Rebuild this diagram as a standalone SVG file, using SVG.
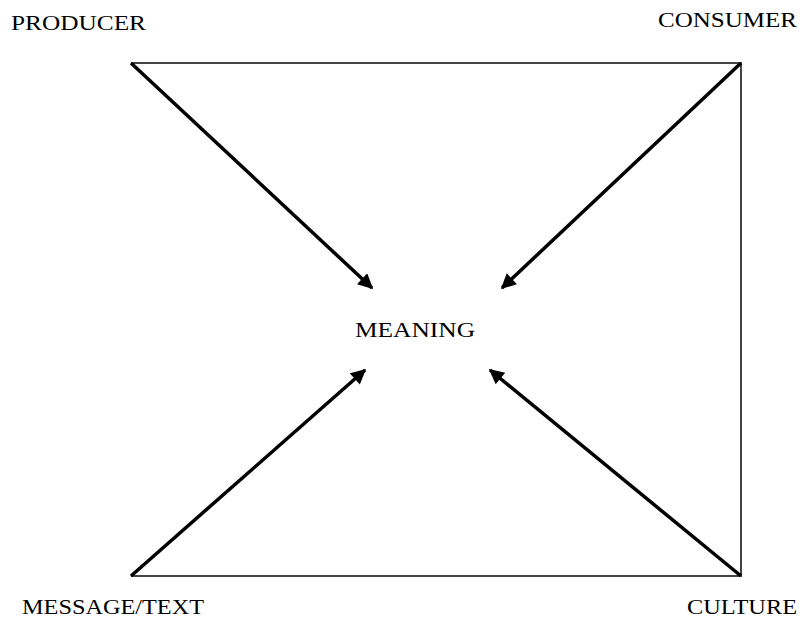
<svg xmlns="http://www.w3.org/2000/svg" width="803" height="620" viewBox="0 0 803 620">
<style>
.lbl{font-family:"Liberation Serif","Times New Roman",serif;font-size:22px;fill:#000}
.frame{stroke:#444;stroke-width:2;fill:none}
.arr{stroke:#000;stroke-width:3.5;fill:none;marker-end:url(#ah)}
</style>
<defs>
<marker id="ah" viewBox="0 0 10 10" refX="9" refY="5" markerUnits="userSpaceOnUse" markerWidth="17" markerHeight="15" orient="auto">
<path d="M0,0 L10,5 L0,10 z" fill="#000"/>
</marker>
</defs>
<rect width="803" height="620" fill="#fff"/>
<g id="connectors">
<path class="frame" d="M131,63 L741,63 L741,576 L131,576"/>
<line class="arr" x1="131" y1="63" x2="372" y2="288"/>
<line class="arr" x1="741" y1="63" x2="502" y2="288"/>
<line class="arr" x1="131" y1="576" x2="365" y2="370"/>
<line class="arr" x1="741" y1="576" x2="490" y2="370"/>
</g>
<g id="producer"><text class="lbl" x="11" y="30" textLength="135" lengthAdjust="spacingAndGlyphs">PRODUCER</text></g>
<g id="consumer"><text class="lbl" x="658" y="27" textLength="139" lengthAdjust="spacingAndGlyphs">CONSUMER</text></g>
<g id="meaning"><text class="lbl" x="355" y="337" textLength="120" lengthAdjust="spacingAndGlyphs">MEANING</text></g>
<g id="message"><text class="lbl" x="22" y="614" textLength="182" lengthAdjust="spacingAndGlyphs">MESSAGE/TEXT</text></g>
<g id="culture"><text class="lbl" x="687" y="614" textLength="110" lengthAdjust="spacingAndGlyphs">CULTURE</text></g>
</svg>
